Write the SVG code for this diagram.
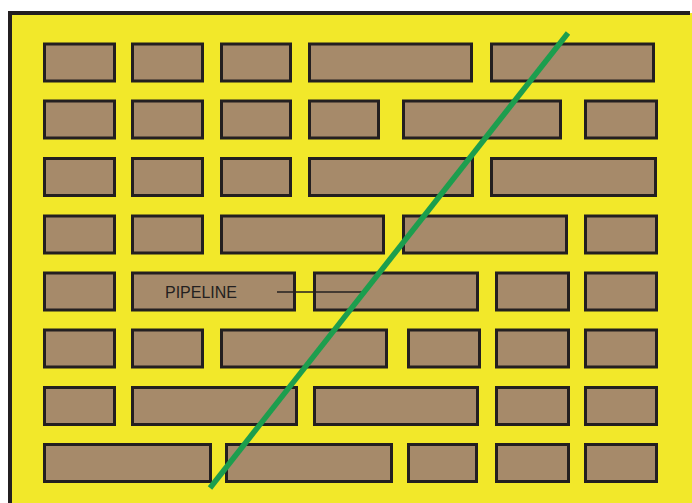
<svg xmlns="http://www.w3.org/2000/svg" width="692" height="503" viewBox="0 0 692 503">
<style>
.b{fill:#a68a6a;stroke:#231f20;stroke-width:3}
.t{font-family:"Liberation Sans",Arial,sans-serif;font-size:16px;fill:#231f20}
</style>
<rect x="0" y="0" width="692" height="503" fill="#ffffff"/>
<rect x="10" y="13" width="682" height="490" fill="#f2e82a"/>
<path d="M10,503 V13 H690" fill="none" stroke="#231f20" stroke-width="4"/>
<g id="r1">
<rect class="b" x="44.5" y="44" width="70" height="37"/>
<rect class="b" x="132.5" y="44" width="70" height="37"/>
<rect class="b" x="221.5" y="44" width="69" height="37"/>
<rect class="b" x="309.5" y="44" width="162" height="37"/>
<rect class="b" x="491.5" y="44" width="162" height="37"/>
</g>
<g id="r2">
<rect class="b" x="44.5" y="101" width="70" height="37"/>
<rect class="b" x="132.5" y="101" width="70" height="37"/>
<rect class="b" x="221.5" y="101" width="69" height="37"/>
<rect class="b" x="309.5" y="101" width="69" height="37"/>
<rect class="b" x="403.5" y="101" width="157" height="37"/>
<rect class="b" x="585.5" y="101" width="71" height="37"/>
</g>
<g id="r3">
<rect class="b" x="44.5" y="158.5" width="70" height="37"/>
<rect class="b" x="132.5" y="158.5" width="70" height="37"/>
<rect class="b" x="221.5" y="158.5" width="69" height="37"/>
<rect class="b" x="309.5" y="158.5" width="163" height="37"/>
<rect class="b" x="491.5" y="158.5" width="164" height="37"/>
</g>
<g id="r4">
<rect class="b" x="44.5" y="216" width="70" height="37"/>
<rect class="b" x="132.5" y="216" width="70" height="37"/>
<rect class="b" x="221.5" y="216" width="162" height="37"/>
<rect class="b" x="403.5" y="216" width="163" height="37"/>
<rect class="b" x="585.5" y="216" width="71" height="37"/>
</g>
<g id="r5">
<rect class="b" x="44.5" y="273" width="70" height="37"/>
<g id="pipeline-box">
<rect class="b" x="132.5" y="273" width="162" height="37"/>
<text class="t" x="165" y="298">PIPELINE</text>
</g>
<rect class="b" x="314.5" y="273" width="163" height="37"/>
<rect class="b" x="496.5" y="273" width="72" height="37"/>
<rect class="b" x="585.5" y="273" width="71" height="37"/>
</g>
<g id="r6">
<rect class="b" x="44.5" y="330" width="70" height="37"/>
<rect class="b" x="132.5" y="330" width="70" height="37"/>
<rect class="b" x="221.5" y="330" width="165" height="37"/>
<rect class="b" x="408.5" y="330" width="71" height="37"/>
<rect class="b" x="496.5" y="330" width="72" height="37"/>
<rect class="b" x="585.5" y="330" width="71" height="37"/>
</g>
<g id="r7">
<rect class="b" x="44.5" y="387.5" width="70" height="37"/>
<rect class="b" x="132.5" y="387.5" width="164" height="37"/>
<rect class="b" x="314.5" y="387.5" width="163" height="37"/>
<rect class="b" x="496.5" y="387.5" width="72" height="37"/>
<rect class="b" x="585.5" y="387.5" width="71" height="37"/>
</g>
<g id="r8">
<rect class="b" x="44.5" y="444.5" width="166" height="37"/>
<rect class="b" x="226.5" y="444.5" width="165" height="37"/>
<rect class="b" x="408.5" y="444.5" width="68" height="37"/>
<rect class="b" x="496.5" y="444.5" width="72" height="37"/>
<rect class="b" x="585.5" y="444.5" width="71" height="37"/>
</g>
<g id="connectors">
<line x1="277" y1="292" x2="363" y2="292" stroke="#231f20" stroke-width="1.5"/>
<line id="pipeline" x1="210" y1="488" x2="568" y2="33" stroke="#1c9e4e" stroke-width="5.5"/>
</g>
</svg>
